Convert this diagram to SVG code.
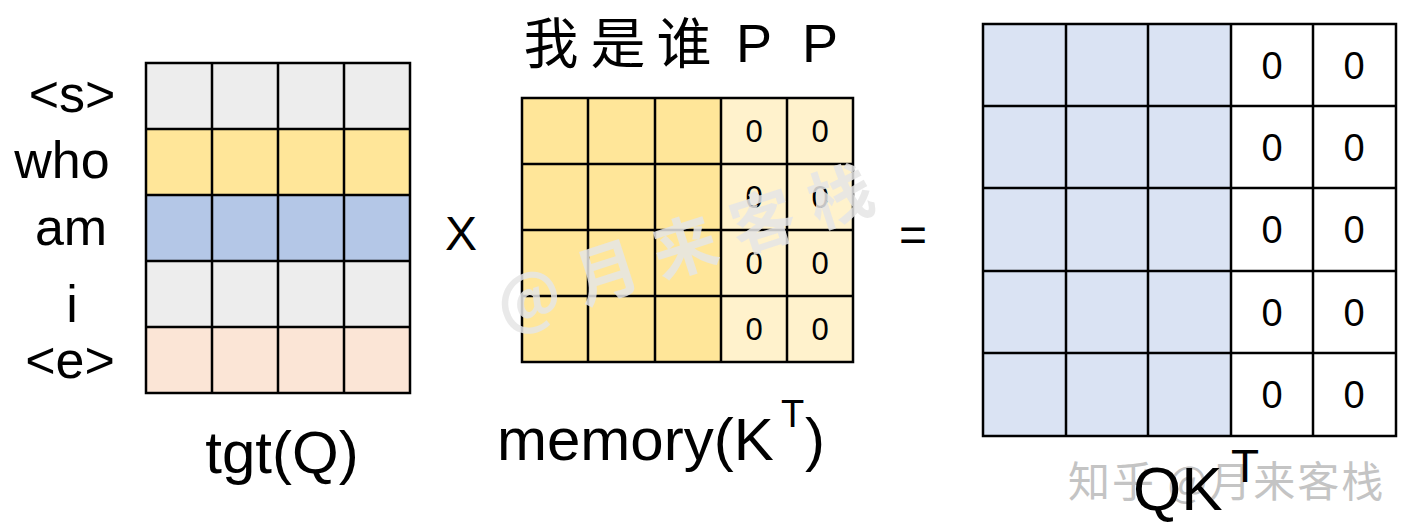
<svg xmlns="http://www.w3.org/2000/svg" width="1410" height="532" viewBox="0 0 1410 532">
<style>
text{font-family:"Liberation Sans","Noto Sans CJK SC",sans-serif;fill:#000}
.grid{stroke:#000;stroke-width:2.5;fill:none}
.lbl{font-size:52px;text-anchor:middle}
.z1{font-size:31px;text-anchor:middle}
.z2{font-size:38px;text-anchor:middle}
.cjk{font-family:"Noto Sans CJK SC",sans-serif}
.wm{font-family:"Noto Sans CJK SC",sans-serif;fill:#c4c4c4}
</style>
<rect width="1410" height="532" fill="#fff"/>

<g id="tgt-labels">
<text class="lbl" x="72" y="112">&lt;s&gt;</text>
<text class="lbl" x="62" y="178">who</text>
<text class="lbl" x="71" y="245">am</text>
<text class="lbl" x="72" y="322">i</text>
<text class="lbl" x="70" y="378">&lt;e&gt;</text>
</g>

<g id="tgt-matrix">
<rect x="146" y="63" width="264" height="66" fill="#EDEDED"/>
<rect x="146" y="129" width="264" height="66" fill="#FFE699"/>
<rect x="146" y="195" width="264" height="66" fill="#B4C7E7"/>
<rect x="146" y="261" width="264" height="66" fill="#EDEDED"/>
<rect x="146" y="327" width="264" height="66" fill="#FBE5D6"/>
<path class="grid" d="M146 63H410V393H146Z M212 63V393 M278 63V393 M344 63V393 M146 129H410 M146 195H410 M146 261H410 M146 327H410"/>
</g>
<text id="tgt-caption" x="282" y="473" style="font-size:60px;text-anchor:middle">tgt(Q)</text>

<text id="times" x="461" y="250" style="font-size:48px;text-anchor:middle">X</text>

<g id="memory-title">
<text class="cjk" x="551" y="63" style="font-size:55px;text-anchor:middle">我</text>
<text class="cjk" x="618" y="63" style="font-size:55px;text-anchor:middle">是</text>
<text class="cjk" x="684" y="63" style="font-size:55px;text-anchor:middle">谁</text>
<text x="754" y="62" style="font-size:54px;text-anchor:middle">P</text>
<text x="820" y="62" style="font-size:54px;text-anchor:middle">P</text>
</g>

<g id="memory-matrix">
<rect x="522" y="98" width="199" height="264" fill="#FFE699"/>
<rect x="721" y="98" width="132" height="264" fill="#FFF2CC"/>
<path class="grid" d="M522 98H853V362H522Z M588 98V362 M655 98V362 M721 98V362 M787 98V362 M522 164H853 M522 230H853 M522 296H853"/>
<text class="z1" x="754" y="142">0</text><text class="z1" x="820" y="142">0</text>
<text class="z1" x="754" y="208">0</text><text class="z1" x="820" y="208">0</text>
<text class="z1" x="754" y="274">0</text><text class="z1" x="820" y="274">0</text>
<text class="z1" x="754" y="340">0</text><text class="z1" x="820" y="340">0</text>
</g>
<text id="memory-caption" x="497" y="460" style="font-size:60px">memory(K<tspan x="781" y="427" style="font-size:38px">T</tspan><tspan x="805" y="460" style="font-size:60px">)</tspan></text>

<text id="watermark-diag" class="cjk" x="0" y="0" transform="translate(505,330) rotate(-18)" style="font-size:64px;font-weight:700;fill:#e6e6e6;opacity:0.85;letter-spacing:18px">@月来客栈</text>

<text id="equals" x="913" y="251" style="font-size:48px;text-anchor:middle">=</text>

<g id="qk-matrix">
<rect x="983" y="24" width="248" height="412" fill="#DAE3F3"/>
<rect x="1231" y="24" width="165" height="412" fill="#FFFFFF"/>
<path class="grid" d="M983 24H1396V436H983Z M1066 24V436 M1148 24V436 M1231 24V436 M1313 24V436 M983 106H1396 M983 188H1396 M983 271H1396 M983 353H1396"/>
<text class="z2" x="1272" y="79">0</text><text class="z2" x="1354" y="79">0</text>
<text class="z2" x="1272" y="161">0</text><text class="z2" x="1354" y="161">0</text>
<text class="z2" x="1272" y="243">0</text><text class="z2" x="1354" y="243">0</text>
<text class="z2" x="1272" y="326">0</text><text class="z2" x="1354" y="326">0</text>
<text class="z2" x="1272" y="408">0</text><text class="z2" x="1354" y="408">0</text>
</g>

<text id="watermark-corner" class="wm" x="1068" y="497" style="font-size:42px;letter-spacing:2px">知乎 @月来客栈</text>
<text id="qk-caption" x="1133" y="510" style="font-size:62px">QK<tspan x="1231" y="482" style="font-size:46px">T</tspan></text>
</svg>
